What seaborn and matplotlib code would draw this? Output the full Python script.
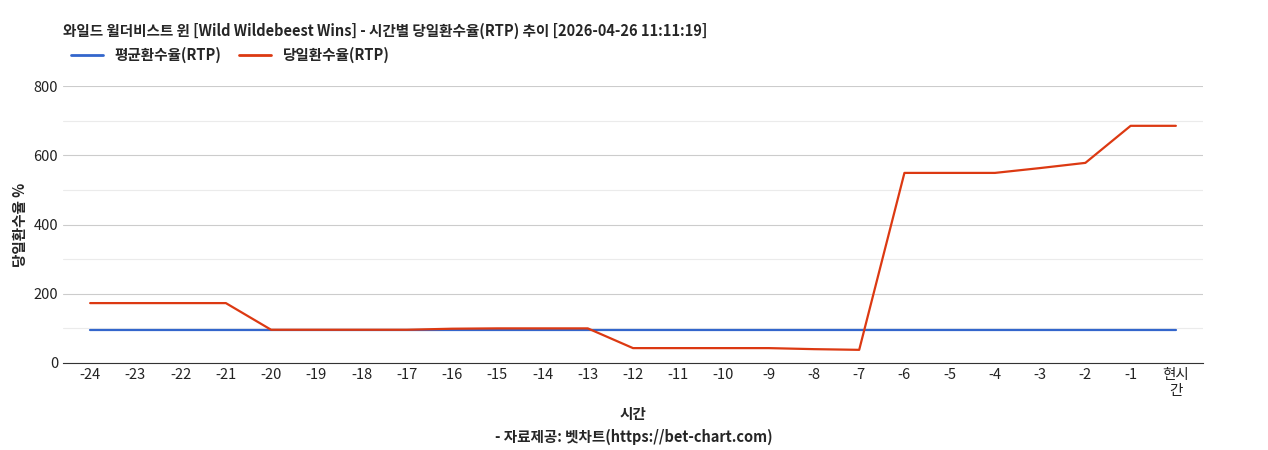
import matplotlib
matplotlib.use("Agg")
import matplotlib.pyplot as plt
import pandas as pd
import seaborn as sns

hours = ["-24", "-23", "-22", "-21", "-20", "-19", "-18", "-17", "-16", "-15", "-14", "-13",
         "-12", "-11", "-10", "-9", "-8", "-7", "-6", "-5", "-4", "-3", "-2", "-1", "현시\n간"]
avg_rtp = [96] * 25
day_rtp = [173, 173, 173, 173, 96, 96, 96, 96, 99, 100, 100, 100,
           43, 43, 43, 43, 40, 38, 549, 549, 549, 563, 578, 685, 685]

sns.set_style("white")
plt.rcParams["font.family"] = ["Noto Sans CJK KR", "DejaVu Sans"]

df = pd.DataFrame({"x": range(len(hours)), "평균환수율(RTP)": avg_rtp, "당일환수율(RTP)": day_rtp})
long = df.melt(id_vars="x", var_name="series", value_name="rtp")

fig = plt.figure(figsize=(12.68, 4.5), dpi=100)
ax = fig.add_axes([63 / 1268, 1 - 363 / 450, 1140 / 1268, 277 / 450])
sns.lineplot(data=long, x="x", y="rtp", hue="series",
             palette={"평균환수율(RTP)": "#3366cc", "당일환수율(RTP)": "#dc3912"},
             linewidth=1.6, ax=ax, legend=False)

ax.set_xlim(-0.6, len(hours) - 0.4)
ax.set_ylim(0, 800)
ax.set_yticks([0, 200, 400, 600, 800])
ax.set_yticks([100, 300, 500, 700], minor=True)
ax.grid(axis="y", which="major", color="#cccccc", linewidth=0.8)
ax.grid(axis="y", which="minor", color="#ebebeb", linewidth=0.8)
ax.set_axisbelow(True)
ax.set_xticks(range(len(hours)))
ax.set_xticklabels(hours)
ax.tick_params(axis="both", length=0, labelsize=10.5, colors="#222222")
for s in ["top", "right", "left"]:
    ax.spines[s].set_visible(False)
ax.spines["bottom"].set_color("#333333")
ax.set_xlabel("시간", fontsize=10.5, fontweight="bold", labelpad=6)
ax.set_ylabel("당일환수율 %", fontsize=10.5, fontweight="bold")

fig.text(63 / 1268, 1 - 31 / 450, "와일드 윌더비스트 윈 [Wild Wildebeest Wins] - 시간별 당일환수율(RTP) 추이 [2026-04-26 11:11:19]",
         fontsize=10.5, fontweight="bold", va="center")
fig.text(0.5, 1 - 437 / 450, "- 자료제공: 벳차트(https://bet-chart.com)", fontsize=10.5,
         fontweight="bold", ha="center", va="center")

from matplotlib.lines import Line2D
handles = [Line2D([], [], color="#3366cc", lw=2), Line2D([], [], color="#dc3912", lw=2)]
fig.legend(handles, ["평균환수율(RTP)", "당일환수율(RTP)"], loc="center left",
           bbox_to_anchor=(58 / 1268, 1 - 55 / 450), ncol=2, frameon=False,
           prop={"weight": "bold", "size": 10.5}, handlelength=2.2, columnspacing=1.2)

fig.savefig("out.png", dpi=100)
